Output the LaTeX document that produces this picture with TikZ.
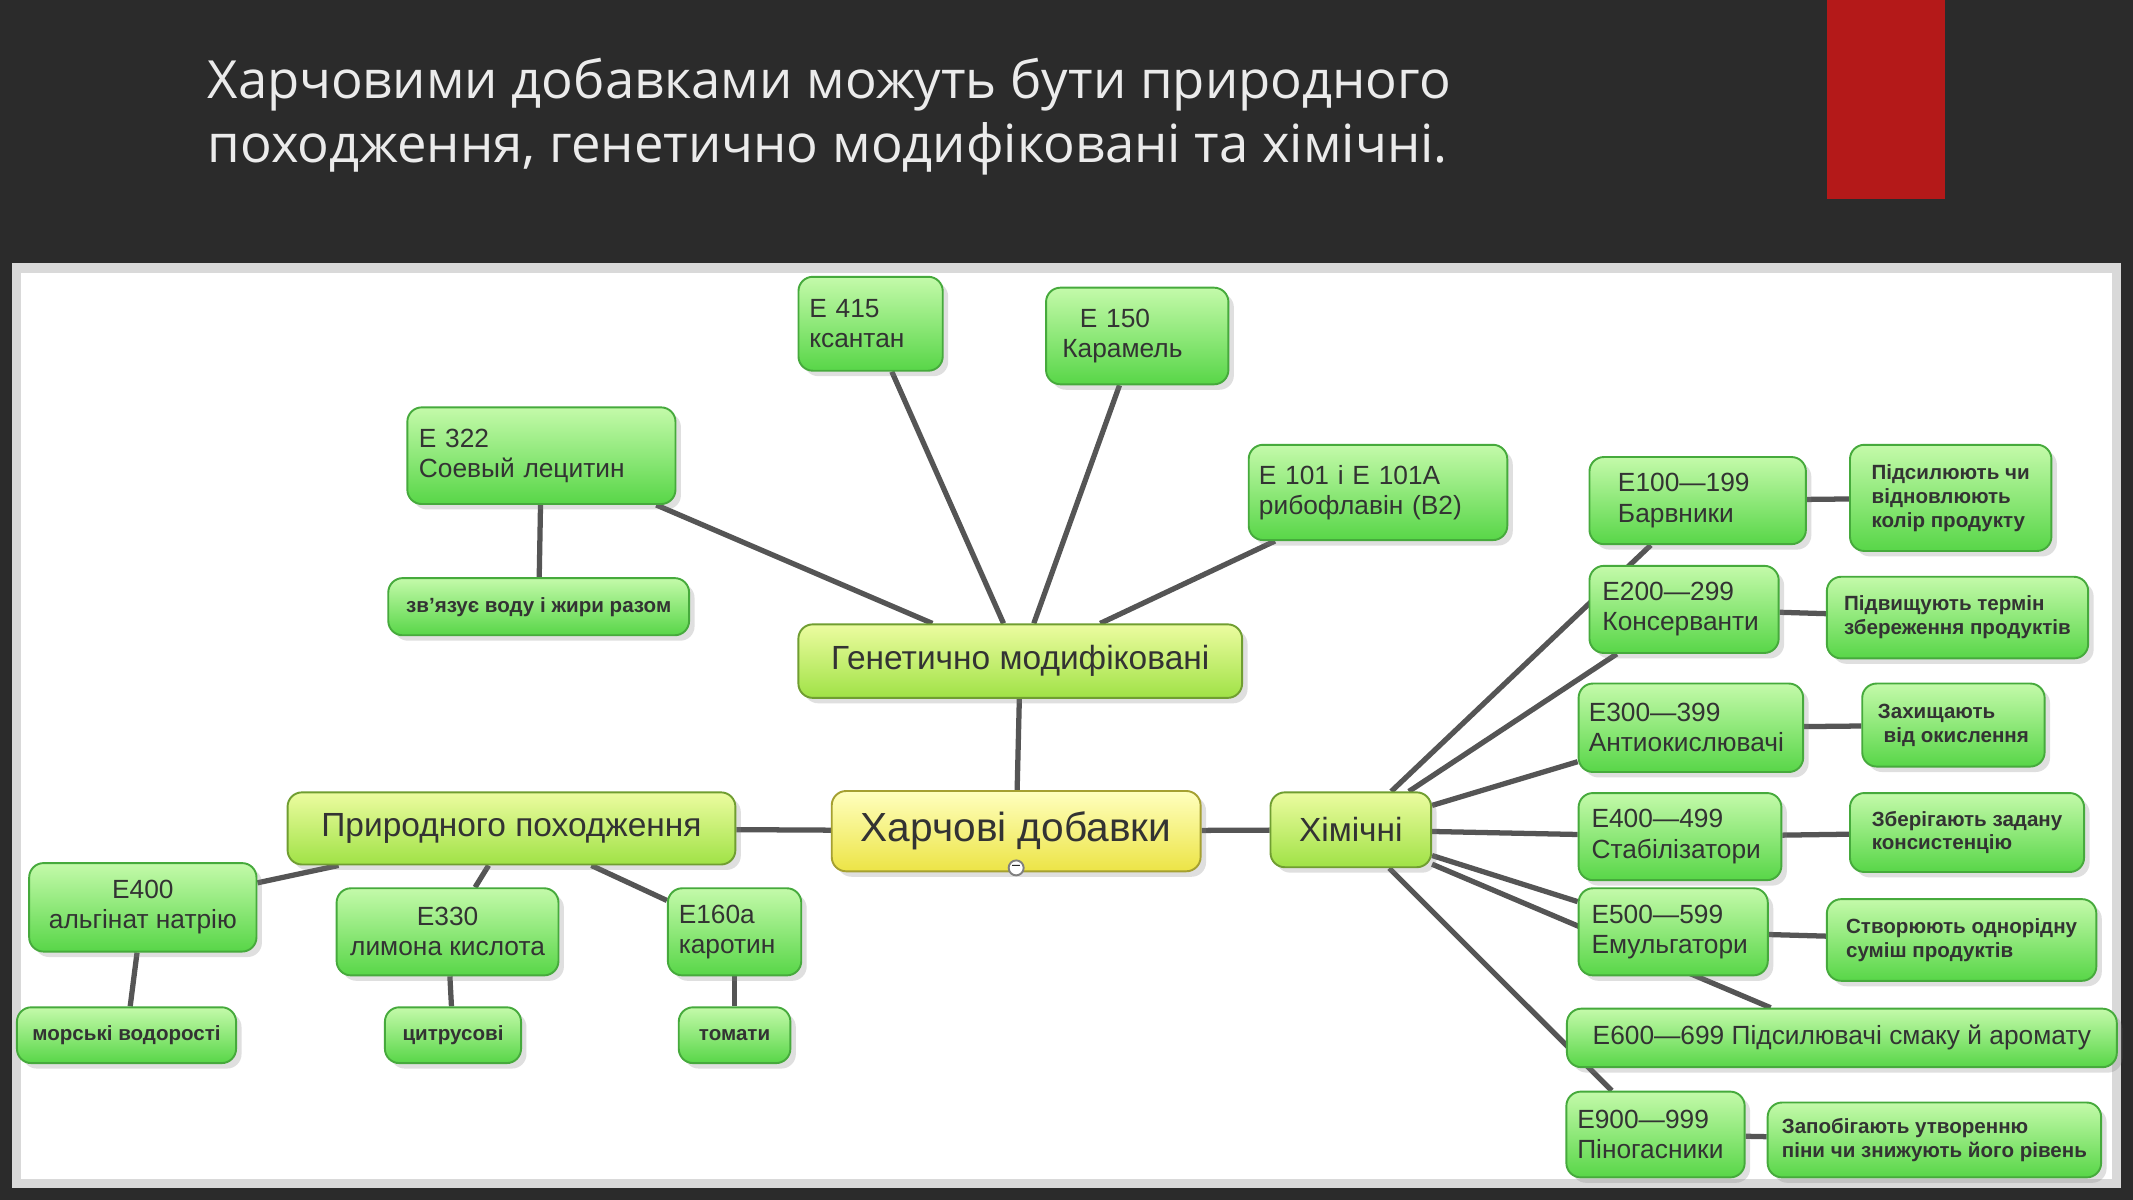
\documentclass[tikz,border=0pt]{standalone}
\usepackage{fontspec}
\setmainfont{Liberation Sans}
\newfontfamily\titlefont{Open Sans}
\usetikzlibrary{backgrounds,shadows}
\definecolor{Dark}{RGB}{43,43,43}
\definecolor{Edge}{RGB}{85,85,85}
\definecolor{GreenTop}{RGB}{196,250,170}
\definecolor{GreenBot}{RGB}{88,214,72}
\definecolor{GreenLine}{RGB}{70,170,60}
\definecolor{LimeTop}{RGB}{236,252,160}
\definecolor{LimeBot}{RGB}{160,226,70}
\definecolor{YelTop}{RGB}{255,255,190}
\definecolor{YelBot}{RGB}{236,228,70}
\definecolor{RedBar}{RGB}{180,25,25}
\tikzset{
  gbox/.style={draw=GreenLine,rounded corners=3pt,top color=GreenTop,bottom color=GreenBot,
    align=left,inner sep=2pt,font=\fontsize{5.5}{6.3}\selectfont,text=black!80,
    drop shadow={opacity=0.25,shadow xshift=0.4mm,shadow yshift=-0.4mm}},
  gsmall/.style={gbox,font=\bfseries\fontsize{4.3}{5}\selectfont},
  lbox/.style={gbox,draw=LimeBot!70!black,top color=LimeTop,bottom color=LimeBot,font=\fontsize{7}{8}\selectfont,align=center},
  rootbox/.style={gbox,draw=YelBot!70!black,top color=YelTop,bottom color=YelBot,font=\fontsize{8.5}{10}\selectfont,align=center},
  link/.style={draw=Edge,line width=1.1pt},
}
\begin{document}
\begin{tikzpicture}[x=0.01cm,y=-0.01cm]
\useasboundingbox (0,0) rectangle (1568,882);
\node[anchor=north west,align=left,text=white!92!black,font=\titlefont\fontsize{11}{13.4}\selectfont,inner sep=0pt]
  (title) at (152,42) {Харчовими добавками можуть бути природного\\походження, генетично модифіковані та хімічні.};

% --- centre ---
\node[rootbox,minimum width=2.71cm,minimum height=0.59cm] (root) at (747,611) {Харчові добавки};
\node[circle,draw=gray,fill=white,inner sep=0pt,minimum size=1.1mm,font=\fontsize{3}{3}\selectfont] (fold) at (747,638) {--};
\node[lbox,minimum width=3.26cm,minimum height=0.54cm] (gm) at (750,486) {Генетично модифіковані};
\node[lbox,minimum width=3.29cm,minimum height=0.53cm] (nat) at (376,609) {Природного походження};
\node[lbox,minimum width=1.18cm,minimum height=0.55cm] (chem) at (993,610) {Хімічні};

% --- genetically modified ---
\node[gbox,minimum width=1.97cm,minimum height=0.71cm,text width=1.8cm] (e322) at (398,335) {E 322\\Соевый лецитин};
\node[gsmall,minimum width=2.21cm,minimum height=0.42cm,align=center] (bind) at (396,446) {зв'язує воду і жири разом};
\node[gbox,minimum width=1.06cm,minimum height=0.69cm,text width=0.9cm] (e415) at (640,238) {E 415\\ксантан};
\node[gbox,minimum width=1.34cm,minimum height=0.71cm,text width=1.1cm] (e150) at (836,247) {\ \ E 150\\Карамель};
\node[gbox,minimum width=1.90cm,minimum height=0.70cm,text width=1.75cm] (e101) at (1013,362) {E 101 і E 101A\\рибофлавін (B2)};

% --- natural ---
\node[gbox,minimum width=1.67cm,minimum height=0.65cm,align=center] (e400n) at (105,667) {E400\\альгінат натрію};
\node[gsmall,minimum width=1.61cm,minimum height=0.41cm,align=center] (sea) at (93,761) {морські водорості};
\node[gbox,minimum width=1.63cm,minimum height=0.64cm,align=center] (e330) at (329,685) {E330\\лимона кислота};
\node[gsmall,minimum width=1.00cm,minimum height=0.41cm,align=center] (citrus) at (333,761) {цитрусові};
\node[gbox,minimum width=0.98cm,minimum height=0.64cm,text width=0.82cm] (e160) at (540,685) {E160a\\каротин};
\node[gsmall,minimum width=0.82cm,minimum height=0.41cm,align=center] (tomato) at (540,761) {томати};

% --- chemical ---
\node[gbox,minimum width=1.59cm,minimum height=0.64cm,text width=1.3cm] (e100) at (1248,368) {\ E100---199\\\ Барвники};
\node[gsmall,minimum width=1.48cm,minimum height=0.78cm] (d100) at (1434,366) {Підсилюють чи\\відновлюють\\колір продукту};
\node[gbox,minimum width=1.39cm,minimum height=0.64cm,text width=1.2cm] (e200) at (1238,448) {E200---299\\Консерванти};
\node[gsmall,minimum width=1.92cm,minimum height=0.60cm] (d200) at (1439,454) {Підвищують термін\\збереження продуктів};
\node[gbox,minimum width=1.65cm,minimum height=0.65cm,text width=1.5cm] (e300) at (1243,535) {E300---399\\Антиокислювачі};
\node[gsmall,minimum width=1.34cm,minimum height=0.61cm] (d300) at (1436,533) {Захищають\\\ від окислення};
\node[gbox,minimum width=1.49cm,minimum height=0.64cm,text width=1.3cm] (e400) at (1235,615) {E400---499\\Стабілізатори};
\node[gsmall,minimum width=1.72cm,minimum height=0.58cm] (d400) at (1446,612) {Зберігають задану\\консистенцію};
\node[gbox,minimum width=1.39cm,minimum height=0.64cm,text width=1.2cm] (e500) at (1230,685) {E500---599\\Емульгатори};
\node[gsmall,minimum width=1.98cm,minimum height=0.60cm] (d500) at (1442,691) {Створюють однорідну\\суміш продуктів};
\node[gbox,minimum width=4.04cm,minimum height=0.43cm,align=center] (e600) at (1354,763) {E600---699 Підсилювачі смаку й аромату};
\node[gbox,minimum width=1.31cm,minimum height=0.63cm,text width=1.15cm] (e900) at (1217,834) {E900---999\\Піногасники};
\node[gsmall,minimum width=2.45cm,minimum height=0.55cm] (d900) at (1422,838) {Запобігають утворенню\\піни чи знижують його рівень};

\begin{pgfonlayer}{background}
  \fill[Dark] (0,0) rectangle (1568,882);
  \fill[RedBar] (1343,0) rectangle (1430,146);
  \fill[white,draw=white!85!black,line width=2pt] (12,197) rectangle (1556,870);
  \draw[link] (root) -- (gm);
  \draw[link] (root) -- (nat);
  \draw[link] (root) -- (chem);
  \foreach \n in {e322,e415,e150,e101} \draw[link] (gm) -- (\n);
  \draw[link] (e322) -- (bind);
  \foreach \n in {e400n,e330,e160} \draw[link] (nat) -- (\n);
  \draw[link] (e400n) -- (sea);
  \draw[link] (e330) -- (citrus);
  \draw[link] (e160) -- (tomato);
  \foreach \n in {e100,e200,e300,e400,e500,e600,e900} \draw[link] (chem) -- (\n);
  \foreach \a/\b in {e100/d100,e200/d200,e300/d300,e400/d400,e500/d500,e900/d900} \draw[link] (\a) -- (\b);
\end{pgfonlayer}
\end{tikzpicture}
\end{document}
